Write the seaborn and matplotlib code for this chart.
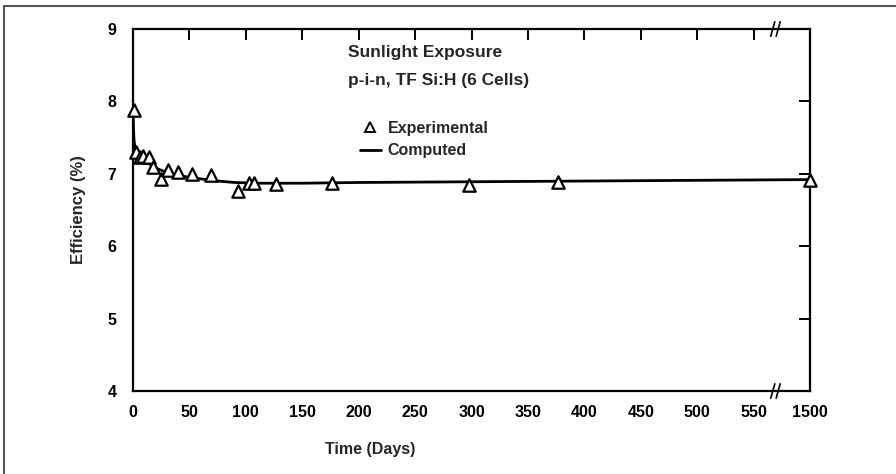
import matplotlib
matplotlib.use("Agg")
import matplotlib.pyplot as plt
import seaborn as sns
import pandas as pd
from matplotlib.lines import Line2D

# Experimental data (days on broken axis; 600 position represents day 1500)
exp_days = [0.5, 3, 6, 9, 14, 18, 25, 31, 40, 52, 69, 93, 103, 107, 127, 176, 298, 377, 600]
exp_eff = [7.88, 7.30, 7.23, 7.24, 7.23, 7.10, 6.93, 7.05, 7.03, 7.00, 6.98, 6.76, 6.87, 6.87, 6.86, 6.87, 6.85, 6.89, 6.91]

# Computed curve
comp_days = [0, 0.5, 1, 2, 4, 7, 10, 15, 20, 30, 40, 50, 60, 75, 90, 110, 150, 200, 300, 400, 500, 600]
comp_eff = [7.9, 7.6, 7.45, 7.35, 7.28, 7.22, 7.18, 7.13, 7.08, 7.02, 6.98, 6.95, 6.93, 6.90, 6.88, 6.87, 6.87, 6.88, 6.89, 6.90, 6.91, 6.92]

x_ticks = [0, 50, 100, 150, 200, 250, 300, 350, 400, 450, 500, 550, 600]
x_tick_labels = ["0", "50", "100", "150", "200", "250", "300", "350", "400", "450", "500", "550", "1500"]
y_ticks = [4, 5, 6, 7, 8, 9]

sns.set_style("white")
plt.rcParams['font.family'] = ['Liberation Sans', 'DejaVu Sans']

fig = plt.figure(figsize=(8.96, 4.74), dpi=100)
ax = fig.add_axes([133/896, 1-391/474, (810-133)/896, (391-29)/474])

df_c = pd.DataFrame({"day": comp_days, "eff": comp_eff})
df_e = pd.DataFrame({"day": exp_days, "eff": exp_eff})

sns.lineplot(data=df_c, x="day", y="eff", ax=ax, color="black", linewidth=2.0,
             estimator=None, sort=True, zorder=2)
sns.scatterplot(data=df_e, x="day", y="eff", ax=ax, marker="^", s=80,
                facecolor="white", edgecolor="black", linewidth=1.6, zorder=3,
                clip_on=False)

ax.set_xlim(0, 600)
ax.set_ylim(4, 9)
ax.set_xticks(x_ticks)
ax.set_xticklabels(x_tick_labels)
ax.set_yticks(y_ticks)
ax.tick_params(direction="in", length=8, width=1.4, top=True, right=True,
               colors="black", labelsize=11.5)
ax.tick_params(axis="y", pad=12)
ax.tick_params(axis="x", pad=10)
for lbl in ax.get_xticklabels() + ax.get_yticklabels():
    lbl.set_fontweight("bold")
for sp in ax.spines.values():
    sp.set_linewidth(1.6)
    sp.set_color("black")

ax.set_xlabel("Time (Days)", fontsize=11.5, fontweight="bold")
ax.set_ylabel("Efficiency (%)", fontsize=12, fontweight="bold")
ax.xaxis.set_label_coords(0.35, -0.14)
ax.yaxis.set_label_coords(-0.07, 0.5)

# Annotation
ax.text(0.318, 0.936, "Sunlight Exposure", transform=ax.transAxes,
        fontsize=12.5, fontweight="bold", va="center", ha="left")
ax.text(0.318, 0.859, "p-i-n, TF Si:H (6 Cells)", transform=ax.transAxes,
        fontsize=12.5, fontweight="bold", va="center", ha="left")

handles = [Line2D([], [], marker="^", linestyle="none", markerfacecolor="white",
                  markeredgecolor="black", markeredgewidth=1.4, markersize=7.5),
           Line2D([], [], color="black", linewidth=2)]
leg = ax.legend(handles, ["Experimental", "Computed"], frameon=False,
                loc="upper left", bbox_to_anchor=(0.335, 0.746), borderpad=0,
                borderaxespad=0, handlelength=1.3, handletextpad=0.45,
                labelspacing=0.45, prop={"size": 11.5, "weight": "bold"})

# Axis break marks
for yb in (0, 1):
    for dx in (-0.004, 0.004):
        ax.plot([0.949 + dx - 0.003, 0.949 + dx + 0.003], [yb - 0.02, yb + 0.02],
                transform=ax.transAxes, color="black", linewidth=1.2, clip_on=False)

# Figure border (top and left)
fig.add_artist(Line2D([4/896, 1.0], [1-6/474, 1-6/474], color="#555555", linewidth=1.5))
fig.add_artist(Line2D([4/896, 4/896], [0, 1-6/474], color="#555555", linewidth=1.5))

fig.savefig("out.png", dpi=100)
